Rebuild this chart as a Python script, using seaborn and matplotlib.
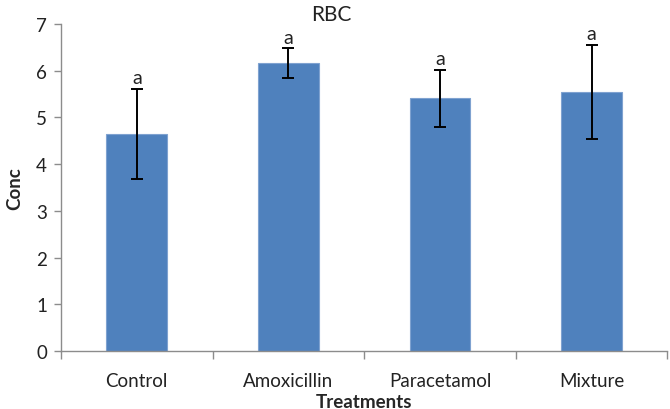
import matplotlib
matplotlib.use("Agg")
import matplotlib.pyplot as plt
import seaborn as sns
import pandas as pd
import numpy as np

treatments = ["Control", "Amoxicillin", "Paracetamol", "Mixture"]
conc = [4.65, 6.16, 5.41, 5.55]
err = [0.97, 0.32, 0.61, 1.00]
letters = ["a", "a", "a", "a"]
y_ticks = [0, 1, 2, 3, 4, 5, 6, 7]

sns.set_theme(style="white")
plt.rcParams['font.family'] = ['Lato', 'DejaVu Sans']

df = pd.DataFrame({"Treatments": treatments, "Conc": conc})

fig = plt.figure(figsize=(6.7, 4.1), dpi=100)
ax = fig.add_axes([0.091, 0.141, 0.905, 0.798])

sns.barplot(data=df, x="Treatments", y="Conc", order=treatments, color="#4F81BD",
            width=0.4, saturation=1, edgecolor="#7FA2D0", linewidth=0.8, ax=ax, errorbar=None)

xpos = np.arange(len(treatments))
ax.errorbar(xpos, conc, yerr=err, fmt="none", ecolor="black", elinewidth=1.4,
            capsize=4.5, capthick=1.4)
for x, v, e, l in zip(xpos, conc, err, letters):
    ax.annotate(l, (x, v + e), xytext=(0, 2), textcoords="offset points",
                ha="center", va="bottom", fontsize=14, color="#222222")

ax.set_ylim(0, 7)
ax.set_xlim(-0.5, 3.5)
ax.set_yticks(y_ticks)
ax.set_yticklabels([str(t) for t in y_ticks], fontsize=13.5, color="#222222")
ax.set_xticks(xpos)
ax.set_xticklabels(treatments, fontsize=13.5, color="#222222")
ax.set_xticks(np.arange(-0.5, 4.0, 1.0), minor=True)
ax.tick_params(axis="x", which="major", length=0, pad=15)
ax.tick_params(axis="x", which="minor", length=6, width=1, color="#8C8C8C", direction="out")
ax.tick_params(axis="y", which="major", length=5, width=1, color="#8C8C8C", direction="out", pad=5)
ax.tick_params(left=True, bottom=True)
ax.tick_params(axis="x", which="minor", bottom=True)

for s in ["top", "right"]:
    ax.spines[s].set_visible(False)
for s in ["left", "bottom"]:
    ax.spines[s].set_color("#8C8C8C")
    ax.spines[s].set_linewidth(1)

ax.set_ylabel("Conc", fontsize=13.5, fontweight="bold", labelpad=9)
ax.set_xlabel("Treatments", fontsize=13.5, fontweight="bold", labelpad=3)
fig.text(0.494, 0.963, "RBC", ha="center", va="center", fontsize=15, color="#222222")

fig.savefig("out.png", dpi=100)
